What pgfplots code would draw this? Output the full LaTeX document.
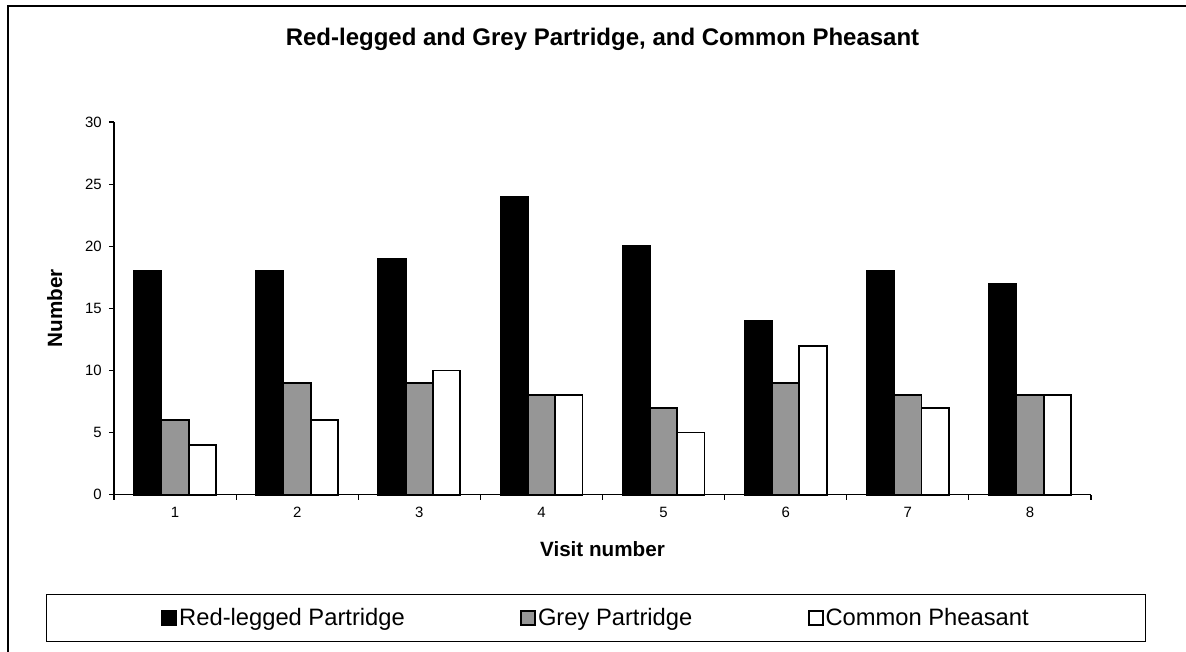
\documentclass[border=0pt]{standalone}
\usepackage{pgfplots}
\pgfplotsset{compat=1.18}
\usepackage{fontspec}
\setmainfont{Liberation Sans}
\definecolor{bargrey}{RGB}{150,150,150}
\begin{document}
\begin{tikzpicture}[x=0.75pt,y=0.75pt]
\useasboundingbox (0,0) rectangle (1186,652);
\draw[line width=1pt] (8,0) -- (8,646) -- (1186,646);
\begin{axis}[
  at={(85.5pt,118pt)}, anchor=south west,
  scale only axis, width=732.75pt, height=279.5pt,
  xmin=0.5, xmax=8.5, ymin=0, ymax=30,
  clip=false,
  ybar=0pt, bar width=20.5pt,
  axis x line*=bottom, axis y line*=left,
  axis line style={-, line width=0.8pt},
  xtick={1,2,3,4,5,6,7,8},
  xticklabels={1,2,3,4,5,6,7,8},
  minor xtick={0.5,1.5,...,8.5},
  major x tick style={draw=none},
  ytick={0,5,10,15,20,25,30},
  yticklabels={0,5,10,15,20,25,30},
  tick align=outside,
  major tick length=3.75pt, minor tick length=3.75pt,
  tick style={black, line width=0.8pt},
  /pgf/number format/assume math mode=true,
  xticklabel style={font=\fontsize{11.2}{13.4}\selectfont, yshift=-2pt},
  yticklabel style={font=\fontsize{11.2}{13.4}\selectfont, xshift=-2pt},
  title={Red-legged and Grey Partridge, and Common Pheasant},
  title style={font=\bfseries\fontsize{18}{22}\selectfont, at={(axis description cs:0.5,1.185)}, anchor=base},
  xlabel={Visit number},
  xlabel style={font=\bfseries\fontsize{15.5}{18}\selectfont, at={(axis description cs:0.5,-0.1664)}, anchor=base},
  ylabel={Number},
  ylabel style={font=\bfseries\fontsize{15.5}{18}\selectfont, at={(axis description cs:-0.0532,0.5)}, anchor=base},
  legend style={at={(axis description cs:0.4934,-0.3308)}, anchor=center, draw=black, line width=0.8pt,
    legend columns=3, font=\fontsize{17.8}{21}\selectfont, inner xsep=86pt, inner ysep=8.5pt,
    nodes={inner xsep=1.5pt, inner ysep=2pt},
    /tikz/every even column/.append style={column sep=85pt}},
  legend image code/.code={\draw[#1, line width=1.4pt] (0pt,-5pt) rectangle (10.5pt,5pt);},
]
\addplot[fill=black, draw=black, line width=1.4pt] coordinates {(1,18) (2,18) (3,19) (4,24) (5,20) (6,14) (7,18) (8,17)};
\addplot[fill=bargrey, draw=black, line width=1.4pt] coordinates {(1,6) (2,9) (3,9) (4,8) (5,7) (6,9) (7,8) (8,8)};
\addplot[fill=white, draw=black, line width=1.4pt] coordinates {(1,4) (2,6) (3,10) (4,8) (5,5) (6,12) (7,7) (8,8)};
\legend{Red-legged Partridge, Grey Partridge, Common Pheasant}
\end{axis}
\end{tikzpicture}
\end{document}
